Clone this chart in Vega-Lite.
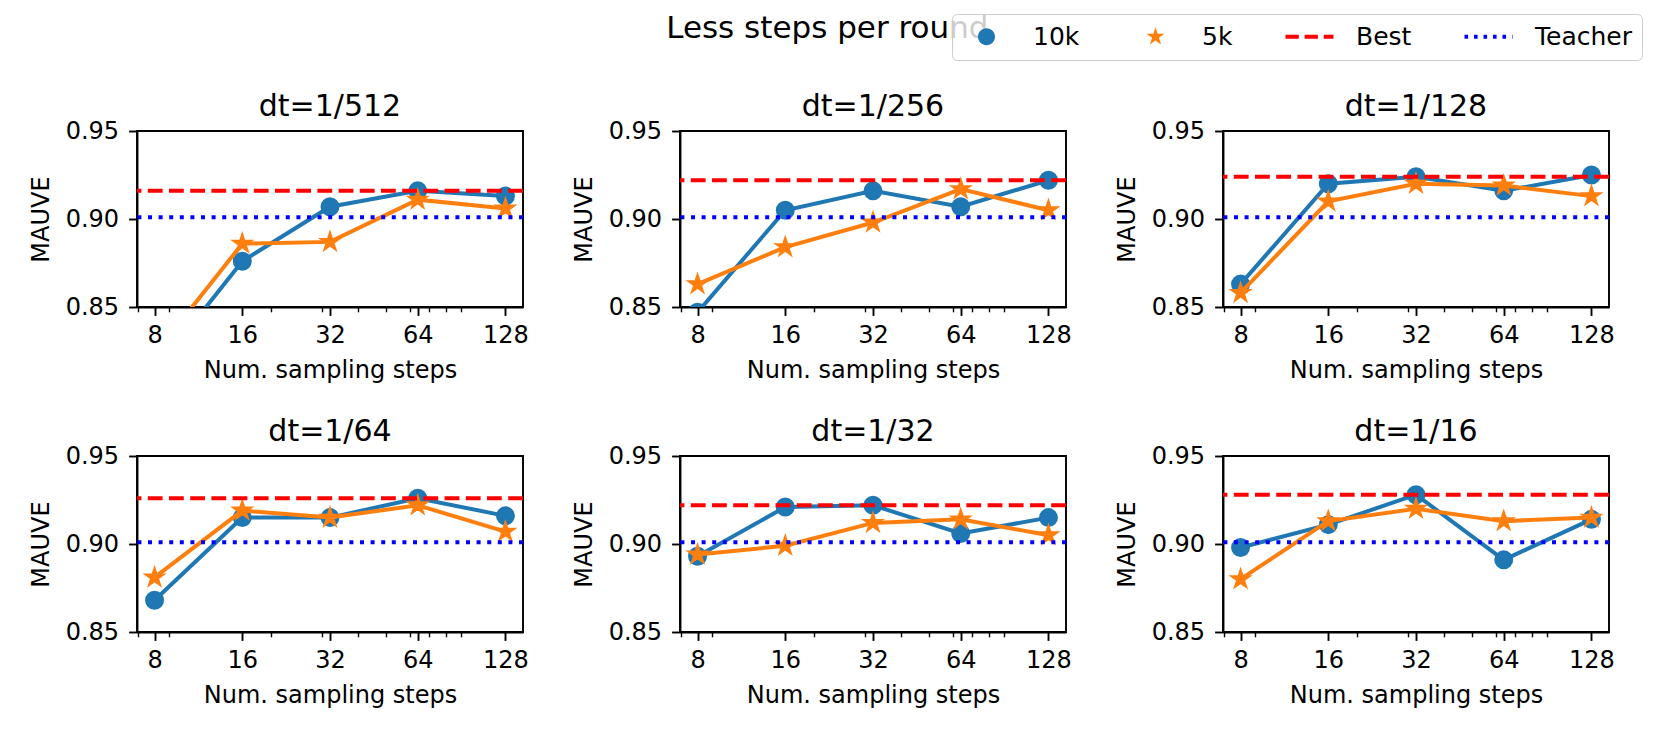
{
  "$schema": "https://vega.github.io/schema/vega-lite/v6.json",
  "background": "white",
  "padding": {"left": 28, "top": 12, "right": 5, "bottom": 5},
  "title": {"text": "Less steps per round", "fontSize": 31, "font": "DejaVu Sans", "fontWeight": "normal", "color": "black", "anchor": "middle", "dx": -8, "dy": 35},
  "config": {
    "font": "DejaVu Sans",
    "view": {"stroke": "black", "strokeWidth": 1.9},
    "axis": {"labelFont": "DejaVu Sans", "labelFontSize": 24, "titleFont": "DejaVu Sans", "titleFontSize": 24, "titleFontWeight": "normal", "labelColor": "black", "titleColor": "black", "tickColor": "black", "domainColor": "black", "grid": false, "domainWidth": 1.9}
  },
  "data": {"values": [
    {"dt": "dt=1/512", "series": "10k", "steps": 8, "mauve": 0.813},
    {"dt": "dt=1/512", "series": "10k", "steps": 16, "mauve": 0.876},
    {"dt": "dt=1/512", "series": "10k", "steps": 32, "mauve": 0.907},
    {"dt": "dt=1/512", "series": "10k", "steps": 64, "mauve": 0.916},
    {"dt": "dt=1/512", "series": "10k", "steps": 128, "mauve": 0.913},
    {"dt": "dt=1/512", "series": "5k", "steps": 8, "mauve": 0.823},
    {"dt": "dt=1/512", "series": "5k", "steps": 16, "mauve": 0.886},
    {"dt": "dt=1/512", "series": "5k", "steps": 32, "mauve": 0.887},
    {"dt": "dt=1/512", "series": "5k", "steps": 64, "mauve": 0.911},
    {"dt": "dt=1/512", "series": "5k", "steps": 128, "mauve": 0.906},
    {"dt": "dt=1/512", "series": "Best", "mauve": 0.916},
    {"dt": "dt=1/512", "series": "Teacher", "mauve": 0.901},
    {"dt": "dt=1/256", "series": "10k", "steps": 8, "mauve": 0.847},
    {"dt": "dt=1/256", "series": "10k", "steps": 16, "mauve": 0.905},
    {"dt": "dt=1/256", "series": "10k", "steps": 32, "mauve": 0.916},
    {"dt": "dt=1/256", "series": "10k", "steps": 64, "mauve": 0.907},
    {"dt": "dt=1/256", "series": "10k", "steps": 128, "mauve": 0.922},
    {"dt": "dt=1/256", "series": "5k", "steps": 8, "mauve": 0.863},
    {"dt": "dt=1/256", "series": "5k", "steps": 16, "mauve": 0.884},
    {"dt": "dt=1/256", "series": "5k", "steps": 32, "mauve": 0.898},
    {"dt": "dt=1/256", "series": "5k", "steps": 64, "mauve": 0.917},
    {"dt": "dt=1/256", "series": "5k", "steps": 128, "mauve": 0.905},
    {"dt": "dt=1/256", "series": "Best", "mauve": 0.922},
    {"dt": "dt=1/256", "series": "Teacher", "mauve": 0.901},
    {"dt": "dt=1/128", "series": "10k", "steps": 8, "mauve": 0.863},
    {"dt": "dt=1/128", "series": "10k", "steps": 16, "mauve": 0.920},
    {"dt": "dt=1/128", "series": "10k", "steps": 32, "mauve": 0.924},
    {"dt": "dt=1/128", "series": "10k", "steps": 64, "mauve": 0.916},
    {"dt": "dt=1/128", "series": "10k", "steps": 128, "mauve": 0.925},
    {"dt": "dt=1/128", "series": "5k", "steps": 8, "mauve": 0.858},
    {"dt": "dt=1/128", "series": "5k", "steps": 16, "mauve": 0.910},
    {"dt": "dt=1/128", "series": "5k", "steps": 32, "mauve": 0.920},
    {"dt": "dt=1/128", "series": "5k", "steps": 64, "mauve": 0.919},
    {"dt": "dt=1/128", "series": "5k", "steps": 128, "mauve": 0.913},
    {"dt": "dt=1/128", "series": "Best", "mauve": 0.924},
    {"dt": "dt=1/128", "series": "Teacher", "mauve": 0.901},
    {"dt": "dt=1/64", "series": "10k", "steps": 8, "mauve": 0.868},
    {"dt": "dt=1/64", "series": "10k", "steps": 16, "mauve": 0.915},
    {"dt": "dt=1/64", "series": "10k", "steps": 32, "mauve": 0.915},
    {"dt": "dt=1/64", "series": "10k", "steps": 64, "mauve": 0.926},
    {"dt": "dt=1/64", "series": "10k", "steps": 128, "mauve": 0.916},
    {"dt": "dt=1/64", "series": "5k", "steps": 8, "mauve": 0.881},
    {"dt": "dt=1/64", "series": "5k", "steps": 16, "mauve": 0.919},
    {"dt": "dt=1/64", "series": "5k", "steps": 32, "mauve": 0.915},
    {"dt": "dt=1/64", "series": "5k", "steps": 64, "mauve": 0.922},
    {"dt": "dt=1/64", "series": "5k", "steps": 128, "mauve": 0.907},
    {"dt": "dt=1/64", "series": "Best", "mauve": 0.926},
    {"dt": "dt=1/64", "series": "Teacher", "mauve": 0.901},
    {"dt": "dt=1/32", "series": "10k", "steps": 8, "mauve": 0.893},
    {"dt": "dt=1/32", "series": "10k", "steps": 16, "mauve": 0.921},
    {"dt": "dt=1/32", "series": "10k", "steps": 32, "mauve": 0.922},
    {"dt": "dt=1/32", "series": "10k", "steps": 64, "mauve": 0.906},
    {"dt": "dt=1/32", "series": "10k", "steps": 128, "mauve": 0.915},
    {"dt": "dt=1/32", "series": "5k", "steps": 8, "mauve": 0.894},
    {"dt": "dt=1/32", "series": "5k", "steps": 16, "mauve": 0.899},
    {"dt": "dt=1/32", "series": "5k", "steps": 32, "mauve": 0.912},
    {"dt": "dt=1/32", "series": "5k", "steps": 64, "mauve": 0.914},
    {"dt": "dt=1/32", "series": "5k", "steps": 128, "mauve": 0.905},
    {"dt": "dt=1/32", "series": "Best", "mauve": 0.922},
    {"dt": "dt=1/32", "series": "Teacher", "mauve": 0.901},
    {"dt": "dt=1/16", "series": "10k", "steps": 8, "mauve": 0.898},
    {"dt": "dt=1/16", "series": "10k", "steps": 16, "mauve": 0.911},
    {"dt": "dt=1/16", "series": "10k", "steps": 32, "mauve": 0.928},
    {"dt": "dt=1/16", "series": "10k", "steps": 64, "mauve": 0.891},
    {"dt": "dt=1/16", "series": "10k", "steps": 128, "mauve": 0.914},
    {"dt": "dt=1/16", "series": "5k", "steps": 8, "mauve": 0.880},
    {"dt": "dt=1/16", "series": "5k", "steps": 16, "mauve": 0.913},
    {"dt": "dt=1/16", "series": "5k", "steps": 32, "mauve": 0.920},
    {"dt": "dt=1/16", "series": "5k", "steps": 64, "mauve": 0.913},
    {"dt": "dt=1/16", "series": "5k", "steps": 128, "mauve": 0.915},
    {"dt": "dt=1/16", "series": "Best", "mauve": 0.928},
    {"dt": "dt=1/16", "series": "Teacher", "mauve": 0.901}
  ]},
  "facet": {
    "field": "dt", "type": "nominal",
    "sort": ["dt=1/512", "dt=1/256", "dt=1/128", "dt=1/64", "dt=1/32", "dt=1/16"],
    "header": {"title": null, "labelFontSize": 30, "labelFont": "DejaVu Sans", "labelColor": "black", "labelPadding": -2.5}
  },
  "columns": 3,
  "bounds": "flush",
  "spacing": {"row": 149, "column": 157},
  "resolve": {"axis": {"x": "independent", "y": "independent"}},
  "spec": {
    "width": 386,
    "height": 176,
    "encoding": {
      "x": {"field": "steps", "type": "quantitative",
        "scale": {"type": "log", "domain": [6.964, 147.03], "nice": false},
        "axis": {"title": "Num. sampling steps", "values": [7, 8, 9, 16, 20, 30, 32, 40, 50, 60, 64, 70, 80, 90, 128], "format": "d",
          "labelExpr": "indexof([8,16,32,64,128], datum.value) >= 0 ? datum.label : ''",
          "labelOverlap": false, "labelFlush": false, "labelPadding": 8.5, "titlePadding": 11,
          "tickSize": {"condition": {"test": "indexof([8,16,32,64,128], datum.value) >= 0", "value": 8.4}, "value": 4.8},
          "tickWidth": {"condition": {"test": "indexof([8,16,32,64,128], datum.value) >= 0", "value": 1.9}, "value": 1.4}}},
      "y": {"field": "mauve", "type": "quantitative",
        "scale": {"domain": [0.85, 0.95], "nice": false, "zero": false},
        "axis": {"title": "MAUVE", "values": [0.85, 0.9, 0.95], "format": ".2f", "tickSize": 8.4, "tickWidth": 1.9, "labelPadding": 10, "titlePadding": 12}},
      "color": {"field": "series", "type": "nominal",
        "scale": {"domain": ["10k", "5k", "Best", "Teacher"], "range": ["#1f77b4", "#ff7f0e", "#ff0000", "#0000ff"]},
        "legend": {"title": null, "orient": "none", "legendX": 815, "legendY": -117, "direction": "horizontal", "columns": 4,
          "symbolSize": 576, "symbolOffset": 12, "labelFontSize": 25, "labelFont": "DejaVu Sans", "labelColor": "black", "labelOffset": 34, "columnPadding": 44,
          "padding": 10, "fillColor": "rgba(255,255,255,0.8)", "strokeColor": "#cccccc", "cornerRadius": 5, "zindex": 1, "symbolOpacity": 1,
          "encode": {"symbols": {"update": {
            "fill": {"signal": "indexof(['Best','Teacher'], datum.value) >= 0 ? 'transparent' : scale('color', datum.value)"},
            "stroke": {"signal": "indexof(['Best','Teacher'], datum.value) >= 0 ? scale('color', datum.value) : null"},
            "strokeWidth": {"signal": "indexof(['Best','Teacher'], datum.value) >= 0 ? 4 : 0"},
            "opacity": {"value": 1}}}}}}
    },
    "layer": [
      {"transform": [{"filter": "datum.series == '10k'"}], "mark": {"type": "line", "strokeWidth": 4, "clip": true}},
      {"transform": [{"filter": "datum.series == '10k'"}], "mark": {"type": "point", "filled": true, "opacity": 1, "size": 576, "clip": true, "stroke": "#1f77b4", "strokeWidth": 2},
        "encoding": {"shape": {"field": "series", "type": "nominal", "scale": {"domain": ["10k", "5k", "Best", "Teacher"], "range": [
          "M-2.6,0L-2.6,0M2.6,0L2.6,0M-0.708,0A0.708,0.708 0 1 0 0.708,0A0.708,0.708 0 1 0 -0.708,0Z",
          "M-2.6,0L-2.6,0M2.6,0L2.6,0M0,-0.792L-0.178,-0.245L-0.753,-0.245L-0.288,0.093L-0.466,0.641L0,0.3025L0.466,0.641L0.288,0.093L0.753,-0.245L0.178,-0.245Z",
          "M-2,0H-0.892M-0.408,0H0.7M1.184,0H2",
          "M-2,0H-1.7M-1.208,0H-0.908M-0.416,0H-0.116M0.375,0H0.675M1.166,0H1.466M1.958,0H2"]}}}},
      {"transform": [{"filter": "datum.series == '5k'"}], "mark": {"type": "line", "strokeWidth": 4, "clip": true}},
      {"transform": [{"filter": "datum.series == '5k'"}], "mark": {"type": "point", "filled": true, "opacity": 1, "size": 576, "clip": true, "stroke": "#ff7f0e", "strokeWidth": 2},
        "encoding": {"shape": {"field": "series", "type": "nominal"}}},
      {"transform": [{"filter": "datum.series == 'Best'"}], "mark": {"type": "rule", "strokeWidth": 4, "strokeDash": [14.8, 6.4]},
        "encoding": {"x": null}},
      {"transform": [{"filter": "datum.series == 'Teacher'"}], "mark": {"type": "rule", "strokeWidth": 4, "strokeDash": [4, 6.6]},
        "encoding": {"x": null}}
    ]
  }
}
